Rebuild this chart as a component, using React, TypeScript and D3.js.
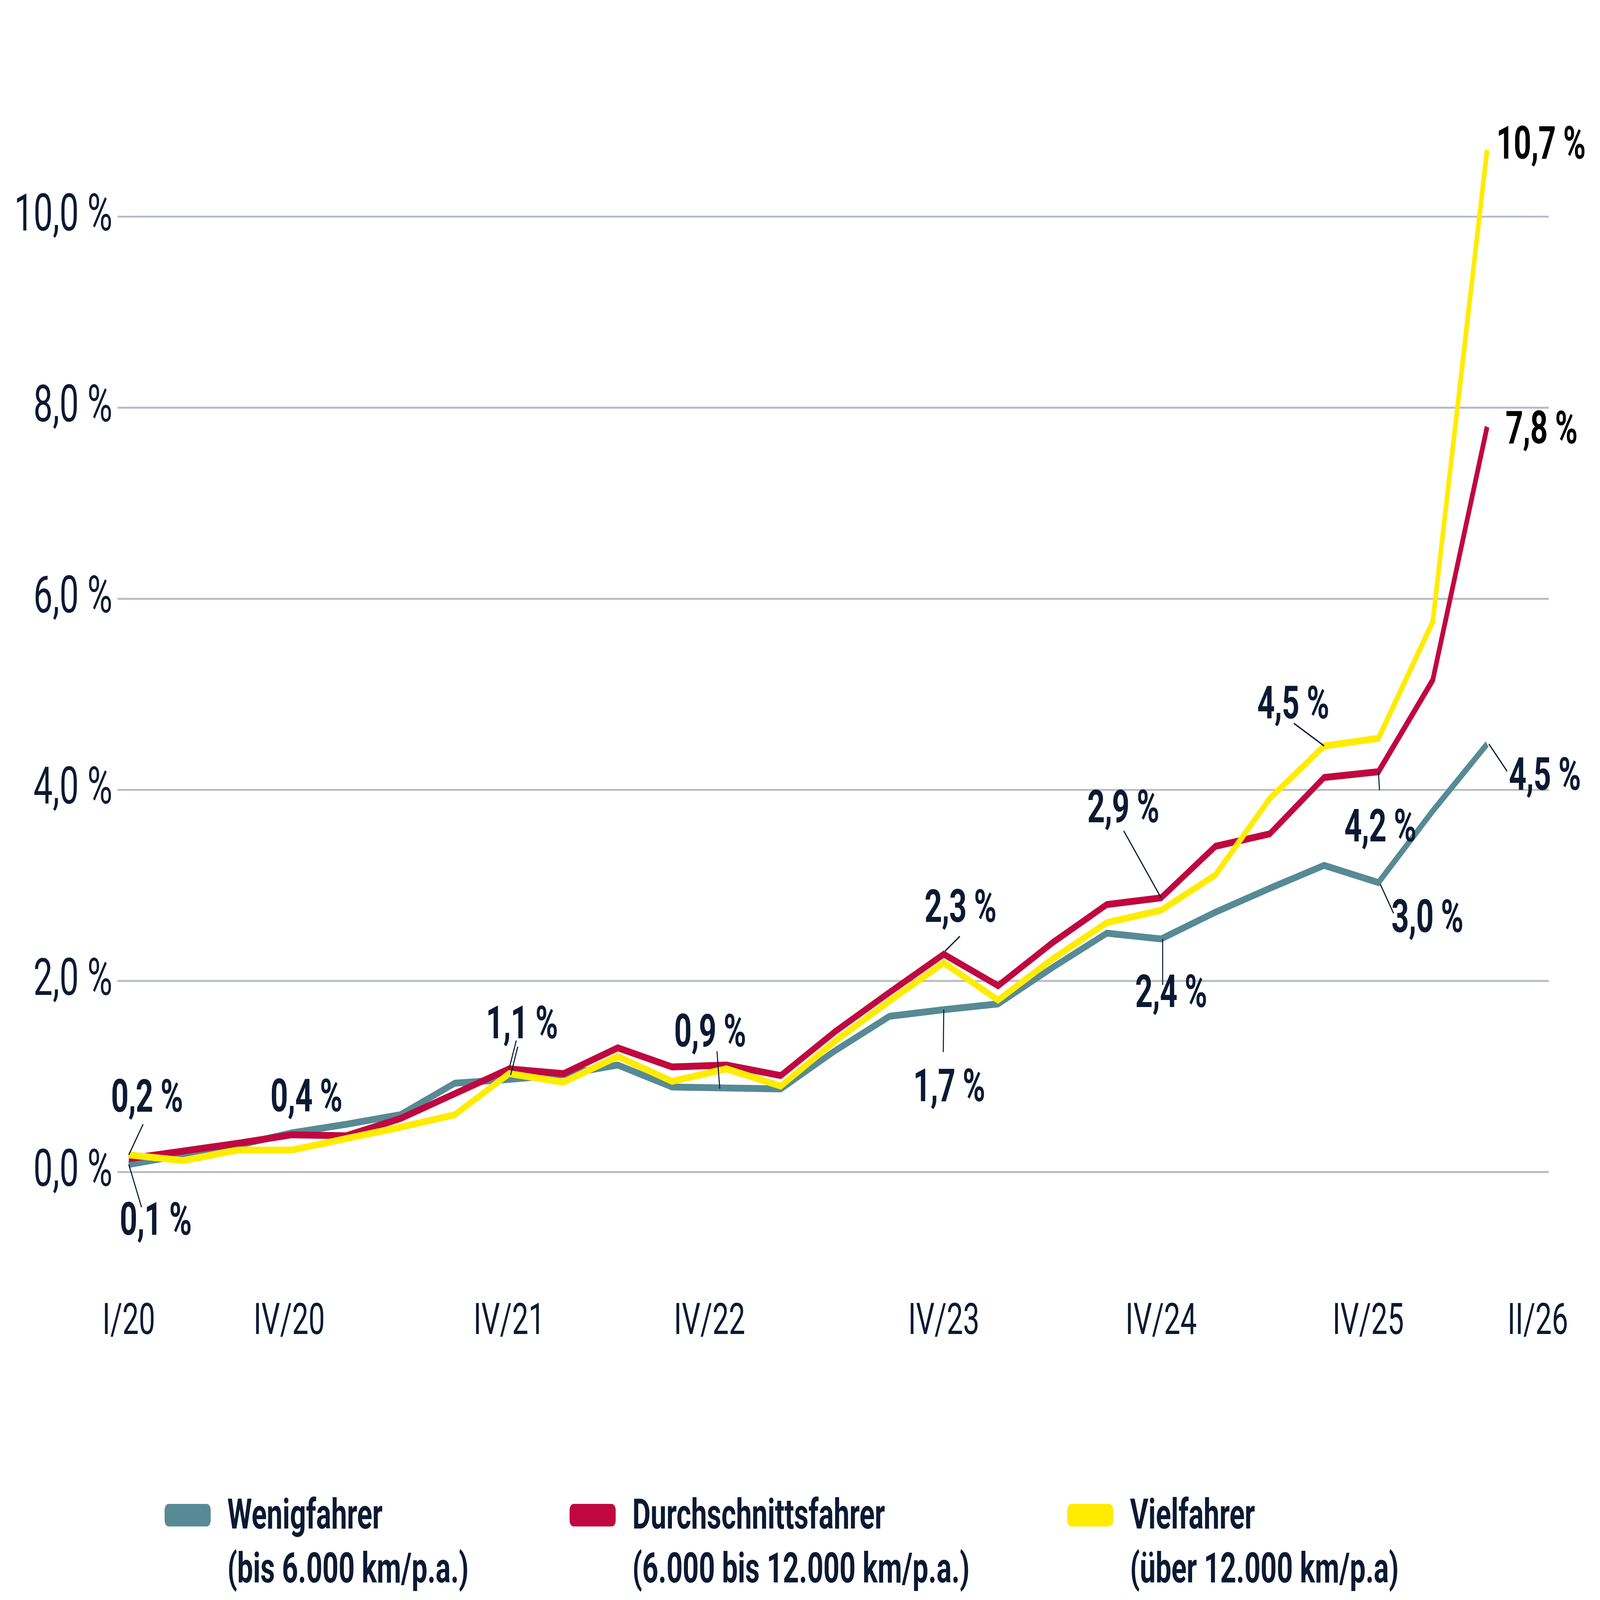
import { scalePoint, scaleLinear, line as d3_line, format } from "d3"

// Quartale (x-Achse)
const quarters = [
  "I/20", "II/20", "III/20", "IV/20",
  "I/21", "II/21", "III/21", "IV/21",
  "I/22", "II/22", "III/22", "IV/22",
  "I/23", "II/23", "III/23", "IV/23",
  "I/24", "II/24", "III/24", "IV/24",
  "I/25", "II/25", "III/25", "IV/25",
  "I/26", "II/26",
]

// Werte in % je Fahrertyp
const wenigfahrer = [
  0.08, 0.18, 0.28, 0.41, 0.5, 0.6, 0.93, 0.97, 1.02, 1.12, 0.89, 0.88, 0.87,
  1.27, 1.63, 1.7, 1.76, 2.14, 2.5, 2.44, 2.72, 2.97, 3.21, 3.03, 3.78, 4.48,
]
const durchschnittsfahrer = [
  0.14, 0.22, 0.3, 0.39, 0.38, 0.56, 0.82, 1.08, 1.03, 1.3, 1.1, 1.12, 1.01,
  1.47, 1.88, 2.28, 1.95, 2.4, 2.8, 2.87, 3.41, 3.54, 4.13, 4.19, 5.15, 7.8,
]
const vielfahrer = [
  0.18, 0.12, 0.23, 0.23, 0.35, 0.47, 0.6, 1.03, 0.94, 1.21, 0.95, 1.08, 0.9,
  1.37, 1.79, 2.19, 1.8, 2.23, 2.61, 2.74, 3.11, 3.91, 4.46, 4.54, 5.76, 10.7,
]

const yTicks = [0, 2, 4, 6, 8, 10]
const xTickLabels = ["I/20", "IV/20", "IV/21", "IV/22", "IV/23", "IV/24", "IV/25", "II/26"]

const seriesNames = ["Wenigfahrer", "Durchschnittsfahrer", "Vielfahrer"]
const seriesNotes = ["(bis 6.000 km/p.a.)", "(6.000 bis 12.000 km/p.a.)", "(über 12.000 km/p.a)"]

// beschriftete Punkte: Reihe + Quartal
const annotated: [number, string][] = [
  [2, "I/20"], [0, "I/20"], [1, "IV/20"], [1, "IV/21"], [0, "IV/22"],
  [1, "IV/23"], [0, "IV/23"], [1, "IV/24"], [0, "IV/24"], [2, "III/25"],
  [1, "IV/25"], [0, "IV/25"], [0, "II/26"], [2, "II/26"], [1, "II/26"],
]

// --- Layout (nicht Daten) ---
const W = 6250
const H = 4180
const colors = ["#578a94", "#c00740", "#ffec00"]
const ink = "#0b1a33"
const font = "Roboto, 'Noto Sans', sans-serif"
const tickShift: Record<string, number> = { "IV/20": -10, "IV/22": -66, "IV/25": -40, "II/26": 198 }
// Label-Versatz relativ zum Punkt, Leader-Segmente [x1, y1, x2, y2]
const labelLayout: { dx: number; dy: number; anchor: string; black?: boolean; leaders?: number[][] }[] = [
  { dx: 71, dy: -113, anchor: "middle", leaders: [[0, 0, 56, -80]] },
  { dx: 105, dy: 184, anchor: "middle", leaders: [[0, 0, 50, 112]] },
  { dx: 57, dy: -61, anchor: "middle" },
  { dx: 50, dy: -80, anchor: "middle", leaders: [[0, 0, 28, -74], [6, 16, 34, -58]] },
  { dx: -64, dy: -108, anchor: "middle", leaders: [[-26, 2, -37, -96]] },
  { dx: 65, dy: -85, anchor: "middle", leaders: [[5, -8, 63, -47]] },
  { dx: 21, dy: 239, anchor: "middle", leaders: [[0, 0, -2, 111]] },
  { dx: -148, dy: -197, anchor: "middle", leaders: [[0, 0, -146, -175]] },
  { dx: 39, dy: 178, anchor: "middle", leaders: [[6, 0, 6, 120]] },
  { dx: -121, dy: -72, anchor: "middle", leaders: [[0, 0, -118, -59]] },
  { dx: 7, dy: 182, anchor: "middle", leaders: [[0, 0, 4, 48]] },
  { dx: 191, dy: 129, anchor: "middle", leaders: [[7, 4, 59, 80]] },
  { dx: 85, dy: 120, anchor: "start", leaders: [[7, 0, 78, 71]] },
  { dx: 36, dy: 23, anchor: "start", black: true },
  { dx: 72, dy: 43, anchor: "start", black: true },
]
const legendX = [643, 2225, 4169]

const fmt = format(".1f")
const pct = (v: number, sep = " ") => fmt(v).replace(".", ",") + sep + "%"

export default function App() {
  const series = [wenigfahrer, durchschnittsfahrer, vielfahrer]

  const x = scalePoint<string>().domain(quarters).range([503, 5809])
  const y = scaleLinear().domain([0, 10]).range([3062, 566])

  const line = d3_line<number>()
    .x((_, i) => x(quarters[i]) ?? 0)
    .y((d) => y(d))

  return (
    <svg
      viewBox={`0 0 ${W} ${H}`}
      preserveAspectRatio="none"
      style={{ position: "fixed", left: 0, top: 0, width: "100vw", height: "100vh", background: "#fff" }}
      fontFamily={font}
    >
      {/* Gitternetz + y-Achse */}
      {yTicks.map((t) => (
        <g key={t}>
          <line x1={459} x2={6050} y1={y(t)} y2={y(t)} stroke="#b7bcc4" strokeWidth={5} />
          <text x={439} y={y(t) + 36} textAnchor="end" fontSize={134} fill={ink}>
            {pct(t)}
          </text>
        </g>
      ))}

      {/* x-Achse */}
      {xTickLabels.map((q) => (
        <text
          key={q}
          x={(x(q) ?? 0) + (tickShift[q] ?? 0)}
          y={3485}
          textAnchor="middle"
          fontSize={114}
          fill={ink}
        >
          {q}
        </text>
      ))}

      {/* Linien */}
      {series.map((s, k) => (
        <path
          key={k}
          d={line(s) ?? ""}
          fill="none"
          stroke={colors[k]}
          strokeWidth={18}
          strokeLinejoin="miter"
          strokeLinecap="butt"
        />
      ))}

      {/* Beschriftungen */}
      {annotated.map(([k, q], i) => {
        const v = series[k][quarters.indexOf(q)]
        const px = x(q) ?? 0
        const py = y(v)
        const L = labelLayout[i]
        return (
          <g key={i}>
            {(L.leaders ?? []).map((seg, j) => (
              <line
                key={j}
                x1={px + seg[0]}
                y1={py + seg[1]}
                x2={px + seg[2]}
                y2={py + seg[3]}
                stroke={ink}
                strokeWidth={4}
              />
            ))}
            <text
              x={px + L.dx}
              y={py + L.dy}
              textAnchor={L.anchor}
              fontSize={120}
              fontWeight={700}
              letterSpacing={-1}
              fill={L.black ? "#000" : ink}
            >
              {pct(v)}
            </text>
          </g>
        )
      })}

      {/* Legende */}
      {seriesNames.map((name, k) => (
        <g key={name}>
          <rect x={legendX[k]} y={3929} width={180} height={59} rx={16} fill={colors[k]} />
          <text x={legendX[k] + 245} y={3993} fontSize={110} fontWeight={700} fill={ink}>
            {name}
          </text>
          <text x={legendX[k] + 245} y={4134} fontSize={110} fontWeight={700} fill={ink}>
            {seriesNotes[k]}
          </text>
        </g>
      ))}
    </svg>
  )
}
